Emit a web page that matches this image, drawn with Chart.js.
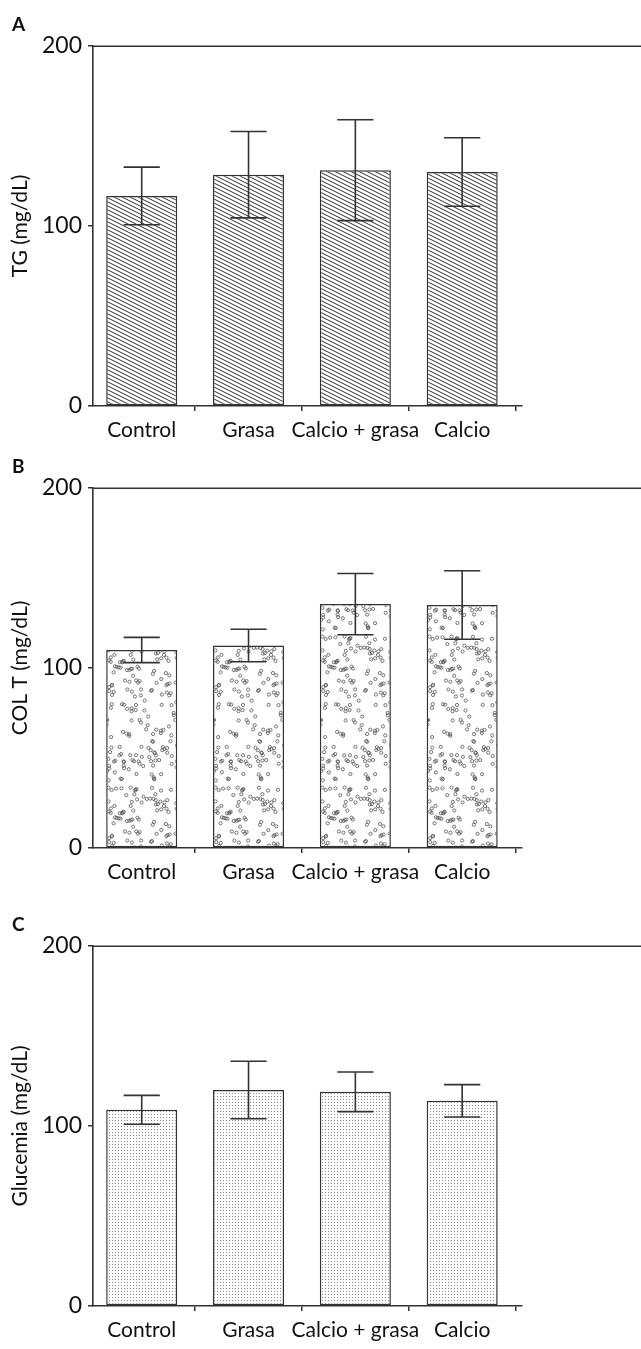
<!DOCTYPE html>
<html><head><meta charset="utf-8">
<script src="https://cdn.jsdelivr.net/npm/chart.js@4/dist/chart.umd.min.js"></script>
<style>
html,body{margin:0;padding:0;background:#fff;}
body{width:641px;height:1349px;position:relative;overflow:hidden;}
.pan{position:absolute;left:0;width:641px;height:449px;}
</style></head><body>
<div class="pan" style="top:0"><canvas id="cA"></canvas></div>
<div class="pan" style="top:442px"><canvas id="cB"></canvas></div>
<div class="pan" style="top:900px"><canvas id="cC"></canvas></div>
<script>
// ---- data ----
const categories = ['Control', 'Grasa', 'Calcio + grasa', 'Calcio'];
const tgMean  = [116.7, 128.5, 131, 130];
const tgErr   = [16, 24, 28, 19];
const colMean = [110, 112.5, 135.5, 135];
const colErr  = [7, 9, 17, 19];
const gluMean = [109, 120, 119, 114];
const gluErr  = [8, 16, 11, 9];
const yTicks  = [0, 100, 200];
const panelLetters = ['A', 'B', 'C'];
const yTitles = ['TG (mg/dL)', 'COL T (mg/dL)', 'Glucemia (mg/dL)'];

const FONT = "Lato, 'Open Sans', sans-serif";
const INK = '#333';

// ---- fill patterns ----
function hatchPattern() {
  const c = document.createElement('canvas'); c.width = 8; c.height = 4;
  const g = c.getContext('2d');
  g.fillStyle = '#fff'; g.fillRect(0, 0, 8, 4);
  g.strokeStyle = '#303030'; g.lineWidth = 1.0;
  g.beginPath();
  for (let k = -1; k <= 1; k++) { g.moveTo(-1, k * 4 - 0.5); g.lineTo(9, k * 4 + 4.5); }
  g.stroke();
  return g.createPattern(c, 'repeat');
}
function circlePattern() {
  const W = 107, H = 151;
  const c = document.createElement('canvas'); c.width = W; c.height = H;
  const g = c.getContext('2d');
  g.fillStyle = '#fff'; g.fillRect(0, 0, W, H);
  g.strokeStyle = '#555'; g.lineWidth = 0.8;
  let seed = 987654;
  const rnd = () => { seed = (seed * 1103515245 + 12345) % 2147483648; return seed / 2147483648; };
  for (let n = 0; n < 285; n++) {
    const px = rnd() * W, py = rnd() * H;
    for (const dx of [-W, 0, W]) for (const dy of [-H, 0, H]) {
      g.beginPath(); g.arc(px + dx, py + dy, 1.6, 0, Math.PI * 2); g.stroke();
    }
  }
  return g.createPattern(c, 'repeat');
}
function dotPattern() {
  const c = document.createElement('canvas'); c.width = 3; c.height = 3;
  const g = c.getContext('2d');
  g.fillStyle = '#fff'; g.fillRect(0, 0, 3, 3);
  g.fillStyle = '#8a8a8a'; g.fillRect(1, 1, 1, 1);
  return g.createPattern(c, 'repeat');
}

// ---- plugins ----
const errorBars = {
  id: 'errorBars',
  afterDatasetsDraw(chart) {
    const { ctx } = chart; const y = chart.scales.y;
    const meta = chart.getDatasetMeta(0); const ds = chart.data.datasets[0];
    ctx.save(); ctx.strokeStyle = INK; ctx.lineWidth = 1.6;
    meta.data.forEach((bar, i) => {
      const m = ds.data[i].y, e = ds.err[i];
      const yt = y.getPixelForValue(m + e), yb = y.getPixelForValue(m - e);
      const hw = bar.width * 0.255;
      ctx.beginPath();
      ctx.moveTo(bar.x, yt); ctx.lineTo(bar.x, yb);
      ctx.moveTo(bar.x - hw, yt); ctx.lineTo(bar.x + hw, yt);
      ctx.moveTo(bar.x - hw, yb); ctx.lineTo(bar.x + hw, yb);
      ctx.stroke();
    });
    ctx.restore();
  }
};
const frameExtras = {
  id: 'frameExtras',
  afterDraw(chart, args, opts) {
    const { ctx, chartArea } = chart; const y = chart.scales.y;
    const py = Math.round(y.getPixelForValue(y.max)) + 0.2;
    ctx.save();
    ctx.strokeStyle = INK; ctx.lineWidth = 1.6;
    ctx.beginPath(); ctx.moveTo(chartArea.left, py); ctx.lineTo(chart.width, py); ctx.stroke();
    ctx.fillStyle = '#111'; ctx.font = 'bold 19px ' + FONT;
    ctx.textBaseline = 'alphabetic'; ctx.textAlign = 'left';
    ctx.fillText(opts.letter, 12, 31);
    ctx.restore();
  }
};

function makeChart(id, means, errs, fill, letter, title) {
  new Chart(document.getElementById(id), {
    type: 'bar',
    data: {
      datasets: [{
        data: categories.map((c, i) => ({ x: i, y: means[i] })),
        err: errs,
        backgroundColor: fill,
        borderColor: INK,
        borderWidth: 1.5,
        borderSkipped: false,
        barPercentage: 0.665,
        categoryPercentage: 1
      }]
    },
    options: {
      responsive: true, maintainAspectRatio: false, animation: false, events: [],
      layout: { padding: { top: 46, right: 119, left: 0, bottom: 0 } },
      plugins: { legend: { display: false }, tooltip: { enabled: false }, frameExtras: { letter } },
      scales: {
        x: {
          type: 'linear', min: -0.456, max: 3.56, offset: false,
          afterBuildTicks(s) { s.ticks = categories.map((c, i) => ({ value: i })); },
          ticks: { callback: (v) => categories[v], font: { family: FONT, size: 21 }, color: '#111', padding: 7, maxRotation: 0, autoSkip: false },
          grid: { drawOnChartArea: false, drawTicks: true, tickLength: 5, color: INK, lineWidth: 1.5 },
          border: { display: true, color: INK, width: 1.6 },
          afterFit(s) { s.height = 43; }
        },
        y: {
          min: 0, max: 200,
          afterBuildTicks(s) { s.ticks = yTicks.map(v => ({ value: v })); },
          ticks: { font: { family: FONT, size: 23 }, color: '#111', padding: 6 },
          grid: { drawOnChartArea: false, drawTicks: true, tickLength: 5, color: INK, lineWidth: 1.5 },
          border: { display: true, color: INK, width: 1.6 },
          title: { display: true, text: title, font: { family: FONT, size: 21 }, color: '#111', padding: { top: 8, bottom: 0 } },
          afterFit(s) { s.width = 93; }
        }
      }
    },
    plugins: [errorBars, frameExtras]
  });
}

makeChart('cA', tgMean, tgErr, hatchPattern(), panelLetters[0], yTitles[0]);
makeChart('cB', colMean, colErr, circlePattern(), panelLetters[1], yTitles[1]);
makeChart('cC', gluMean, gluErr, dotPattern(), panelLetters[2], yTitles[2]);
</script>
</body></html>
